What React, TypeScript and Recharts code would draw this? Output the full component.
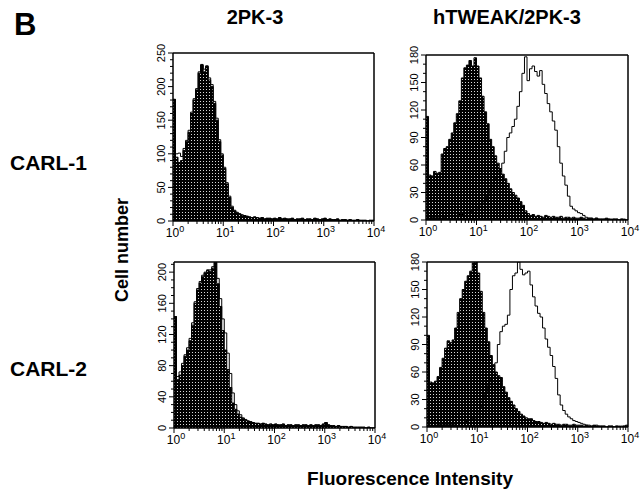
import React from 'react';
import { ComposedChart, Area, Line, XAxis, YAxis, ReferenceLine } from 'recharts';

const FONT = '"Liberation Sans", Arial, Helvetica, sans-serif';

// bin starts, in decades (log10 of fluorescence intensity)
const LOG_X = [
  0, 0.05, 0.1, 0.15, 0.2, 0.25, 0.3, 0.35, 0.4, 0.45,
  0.5, 0.55, 0.6, 0.65, 0.7, 0.75, 0.8, 0.85, 0.9, 0.95,
  1, 1.05, 1.1, 1.15, 1.2, 1.25, 1.3, 1.35, 1.4, 1.45,
  1.5, 1.55, 1.6, 1.65, 1.7, 1.75, 1.8, 1.85, 1.9, 1.95,
  2, 2.05, 2.1, 2.15, 2.2, 2.25, 2.3, 2.35, 2.4, 2.45,
  2.5, 2.55, 2.6, 2.65, 2.7, 2.75, 2.8, 2.85, 2.9, 2.95,
  3, 3.05, 3.1, 3.15, 3.2, 3.25, 3.3, 3.35, 3.4, 3.45,
  3.5, 3.55, 3.6, 3.65, 3.7, 3.75, 3.8, 3.85, 3.9, 3.95,
  4,
];

// CARL-1 / 2PK-3
const TL_FILLED = [
  181, 95, 87, 90, 105, 118, 132, 160, 180, 195,
  220, 232, 222, 230, 210, 200, 175, 150, 118, 98,
  78, 55, 35, 20, 15, 12, 10, 9, 8, 7,
  6, 5, 6, 5, 4, 5, 3, 4, 4, 3,
  4, 3, 5, 3, 4, 3, 3, 4, 2, 3,
  3, 4, 2, 3, 3, 2, 4, 3, 2, 3,
  4, 2, 3, 2, 2, 3, 1, 2, 2, 1,
  2, 1, 1, 2, 1, 1, 1, 0, 1, 1,
  1,
];
const TL_OPEN = [
  181, 100, 101, 96, 108, 120, 135, 162, 182, 197,
  222, 233, 226, 231, 213, 203, 178, 153, 121, 100,
  80, 57, 37, 22, 16, 13, 11, 9, 8, 7,
  6, 5, 6, 5, 4, 5, 3, 4, 4, 3,
  4, 3, 5, 3, 4, 3, 3, 4, 2, 3,
  3, 4, 2, 3, 3, 2, 4, 3, 2, 3,
  4, 2, 3, 2, 2, 3, 1, 2, 2, 1,
  2, 1, 1, 2, 1, 1, 1, 0, 1, 1,
  1,
];

// CARL-1 / hTWEAK/2PK-3
const TR_FILLED = [
  113, 49, 48, 53, 51, 52, 72, 78, 80, 88,
  95, 106, 116, 130, 155, 166, 169, 174, 168, 177,
  168, 155, 135, 118, 105, 88, 80, 70, 62, 56,
  50, 45, 40, 34, 30, 27, 24, 20, 16, 10,
  7, 5, 6, 4, 5, 4, 3, 5, 4, 3,
  4, 3, 3, 4, 2, 3, 3, 2, 3, 2,
  2, 3, 2, 1, 2, 2, 1, 2, 1, 1,
  1, 2, 1, 1, 1, 1, 0, 1, 1, 0,
  0,
];
const TR_OPEN = [
  2, 2, 3, 2, 3, 3, 4, 3, 4, 4,
  4, 5, 5, 6, 6, 7, 8, 9, 10, 11,
  12, 15, 18, 22, 26, 32, 38, 45, 50, 56,
  62, 75, 90, 95, 102, 110, 124, 140, 160, 178,
  152, 165, 168, 162, 157, 163, 148, 138, 127, 118,
  108, 98, 80, 62, 48, 38, 26, 15, 12, 10,
  8, 7, 5, 3, 2, 2, 1, 2, 1, 1,
  1, 1, 1, 0, 1, 1, 0, 1, 0, 0,
  0,
];

// CARL-2 / 2PK-3
const BL_FILLED = [
  143, 62, 68, 80, 92, 100, 112, 132, 160, 177,
  186, 194, 199, 202, 201, 205, 212, 185, 156, 125,
  100, 75, 52, 32, 24, 18, 14, 12, 10, 9,
  8, 7, 6, 6, 5, 6, 5, 4, 5, 4,
  5, 4, 4, 5, 3, 4, 4, 3, 4, 4,
  3, 4, 4, 3, 4, 3, 4, 4, 3, 5,
  7, 4, 3, 3, 2, 3, 2, 2, 2, 1,
  2, 1, 1, 1, 1, 1, 0, 1, 0, 0,
  0,
];
const BL_OPEN = [
  143, 66, 72, 83, 94, 103, 115, 135, 162, 179,
  188, 196, 200, 203, 203, 207, 213, 192, 166, 140,
  122, 96, 70, 45, 30, 22, 17, 13, 11, 9,
  8, 7, 6, 6, 5, 6, 5, 4, 5, 4,
  5, 4, 4, 5, 3, 4, 4, 3, 4, 4,
  3, 4, 4, 3, 4, 3, 4, 4, 3, 5,
  7, 4, 3, 3, 2, 3, 2, 2, 2, 1,
  2, 1, 1, 1, 1, 1, 0, 1, 0, 0,
  0,
];

// CARL-2 / hTWEAK/2PK-3
const BR_FILLED = [
  100, 49, 48, 50, 55, 65, 75, 86, 94, 92,
  95, 108, 125, 140, 150, 159, 165, 170, 179, 180,
  168, 148, 125, 108, 93, 78, 68, 60, 56, 54,
  44, 38, 32, 28, 24, 20, 17, 14, 12, 10,
  9, 9, 7, 6, 6, 5, 4, 5, 4, 3,
  4, 3, 3, 2, 3, 3, 2, 2, 3, 2,
  2, 2, 1, 2, 1, 1, 2, 1, 1, 1,
  1, 0, 1, 1, 0, 1, 1, 0, 1, 2,
  0,
];
const BR_OPEN = [
  1, 2, 1, 2, 2, 3, 2, 3, 3, 3,
  3, 4, 4, 5, 5, 6, 7, 8, 9, 10,
  15, 22, 30, 37, 45, 52, 60, 70, 90, 104,
  110, 112, 122, 150, 165, 168, 180, 172, 166, 168,
  170, 155, 142, 132, 124, 120, 108, 96, 87, 78,
  66, 53, 35, 24, 18, 14, 11, 9, 7, 6,
  5, 4, 3, 2, 2, 1, 1, 2, 1, 1,
  1, 0, 1, 1, 0, 1, 0, 1, 1, 0,
  0,
];

const Y_TICKS_250 = [0, 10, 20, 30, 40, 50, 60, 70, 80, 90, 100, 110, 120, 130, 140, 150, 160, 170, 180, 190, 200, 210, 220, 230, 240, 250];
const Y_TICKS_180 = [0, 10, 20, 30, 40, 50, 60, 70, 80, 90, 100, 110, 120, 130, 140, 150, 160, 170, 180];
const Y_TICKS_210 = [0, 10, 20, 30, 40, 50, 60, 70, 80, 90, 100, 110, 120, 130, 140, 150, 160, 170, 180, 190, 200, 210];

const DECADES = [0, 1, 2, 3];
const MINOR_FACTORS = [2, 3, 4, 5, 6, 7, 8, 9];
const X_TICKS = [
  ...DECADES.flatMap((d) => [d, ...MINOR_FACTORS.map((f) => d + Math.log10(f))]),
  4,
];

const XTick = (props: any) => {
  const { x, y, payload } = props;
  const v = payload.value;
  const major = Math.abs(v - Math.round(v)) < 1e-6;
  return (
    <g>
      <line x1={x} y1={y} x2={x} y2={y + (major ? 5 : 3)} stroke="#000" strokeWidth={1} />
      {major && (
        <text x={x + 2} y={y + 16} textAnchor="middle" fontSize={12} fontFamily={FONT} fill="#000">
          10<tspan dy={-5} fontSize={9}>{Math.round(v)}</tspan>
        </text>
      )}
    </g>
  );
};

const makeYTick = (step: number) => (props: any) => {
  const { x, y, payload } = props;
  const v = payload.value;
  const major = v % step === 0;
  const lx = x - 12;
  return (
    <g>
      <line x1={x} y1={y} x2={x - (major ? 5 : 3)} y2={y} stroke="#000" strokeWidth={1} />
      {major && (
        <text
          x={lx}
          y={y}
          transform={`rotate(-90 ${lx} ${y})`}
          textAnchor="middle"
          dominantBaseline="central"
          fontSize={11}
          fontFamily={FONT}
          fill="#000"
        >
          {v}
        </text>
      )}
    </g>
  );
};

type PanelProps = {
  id: string;
  left: number;
  top: number;
  plotW: number;
  plotH: number;
  yMax: number;
  yTicks: number[];
  yStep: number;
  filled: number[];
  open: number[];
};

function Panel({ id, left, top, plotW, plotH, yMax, yTicks, yStep, filled, open }: PanelProps) {
  const data = LOG_X.map((x, i) => ({ x, filled: filled[i], open: open[i] }));
  const W = plotW + 40 + 14;
  const H = plotH + 10 + 24;
  return (
    <div style={{ position: 'absolute', left: left - 40, top: top - 10 }}>
      <ComposedChart width={W} height={H} data={data} margin={{ top: 10, right: 14, bottom: 0, left: 0 }}>
        <defs>
          <pattern id={`dots-${id}`} width="3" height="3" patternUnits="userSpaceOnUse">
            <rect width="3" height="3" fill="#000" />
            <rect x="1" y="1" width="1" height="1" fill="#d8d8d8" />
          </pattern>
        </defs>
        <XAxis
          dataKey="x"
          type="number"
          domain={[0, 4]}
          ticks={X_TICKS}
          interval={0}
          tickSize={0}
          tickMargin={0}
          tickLine={false}
          axisLine={{ stroke: '#000', strokeWidth: 1.5 }}
          tick={XTick}
          height={24}
          allowDataOverflow
        />
        <YAxis
          type="number"
          domain={[0, yMax]}
          ticks={yTicks}
          interval={0}
          tickSize={0}
          tickMargin={0}
          tickLine={false}
          axisLine={{ stroke: '#000', strokeWidth: 1.5 }}
          tick={makeYTick(yStep)}
          width={40}
          allowDataOverflow
        />
        <ReferenceLine y={yMax} stroke="#000" strokeWidth={1.5} />
        <ReferenceLine x={4} stroke="#000" strokeWidth={1.5} />
        <Area
          dataKey="filled"
          type="stepAfter"
          fill={`url(#dots-${id})`}
          fillOpacity={1}
          stroke="#000"
          strokeWidth={1}
          isAnimationActive={false}
        />
        <Line
          dataKey="open"
          type="stepAfter"
          stroke="#000"
          strokeWidth={1}
          dot={false}
          isAnimationActive={false}
        />
      </ComposedChart>
    </div>
  );
}

export default function App() {
  const bold = { fontFamily: FONT, fontWeight: 700, fill: '#000' } as const;
  return (
    <div style={{ position: 'absolute', left: 0, top: 0, width: 640, height: 493, background: '#fff' }}>
      <svg width={640} height={493} style={{ position: 'absolute', left: 0, top: 0 }}>
        <text x={14} y={35} fontSize={31} {...bold}>B</text>
        <text x={255} y={24} fontSize={20} textAnchor="middle" {...bold}>2PK-3</text>
        <text x={507} y={24} fontSize={20} textAnchor="middle" {...bold}>hTWEAK/2PK-3</text>
        <text x={10} y={170} fontSize={21} {...bold}>CARL-1</text>
        <text x={10} y={376} fontSize={21} {...bold}>CARL-2</text>
        <text x={122} y={250} fontSize={18} textAnchor="middle" dominantBaseline="central" transform="rotate(-90 122 250)" {...bold}>
          Cell number
        </text>
        <text x={410} y={485} fontSize={19} textAnchor="middle" {...bold}>Fluorescence Intensity</text>
      </svg>
      <Panel id="tl" left={173} top={53} plotW={201} plotH={168} yMax={250} yTicks={Y_TICKS_250} yStep={50} filled={TL_FILLED} open={TL_OPEN} />
      <Panel id="tr" left={426} top={55} plotW={202} plotH={165} yMax={180} yTicks={Y_TICKS_180} yStep={30} filled={TR_FILLED} open={TR_OPEN} />
      <Panel id="bl" left={174} top={262} plotW={201} plotH={166} yMax={213} yTicks={Y_TICKS_210} yStep={40} filled={BL_FILLED} open={BL_OPEN} />
      <Panel id="br" left={427} top={262} plotW={201} plotH={165} yMax={180} yTicks={Y_TICKS_180} yStep={30} filled={BR_FILLED} open={BR_OPEN} />
    </div>
  );
}
